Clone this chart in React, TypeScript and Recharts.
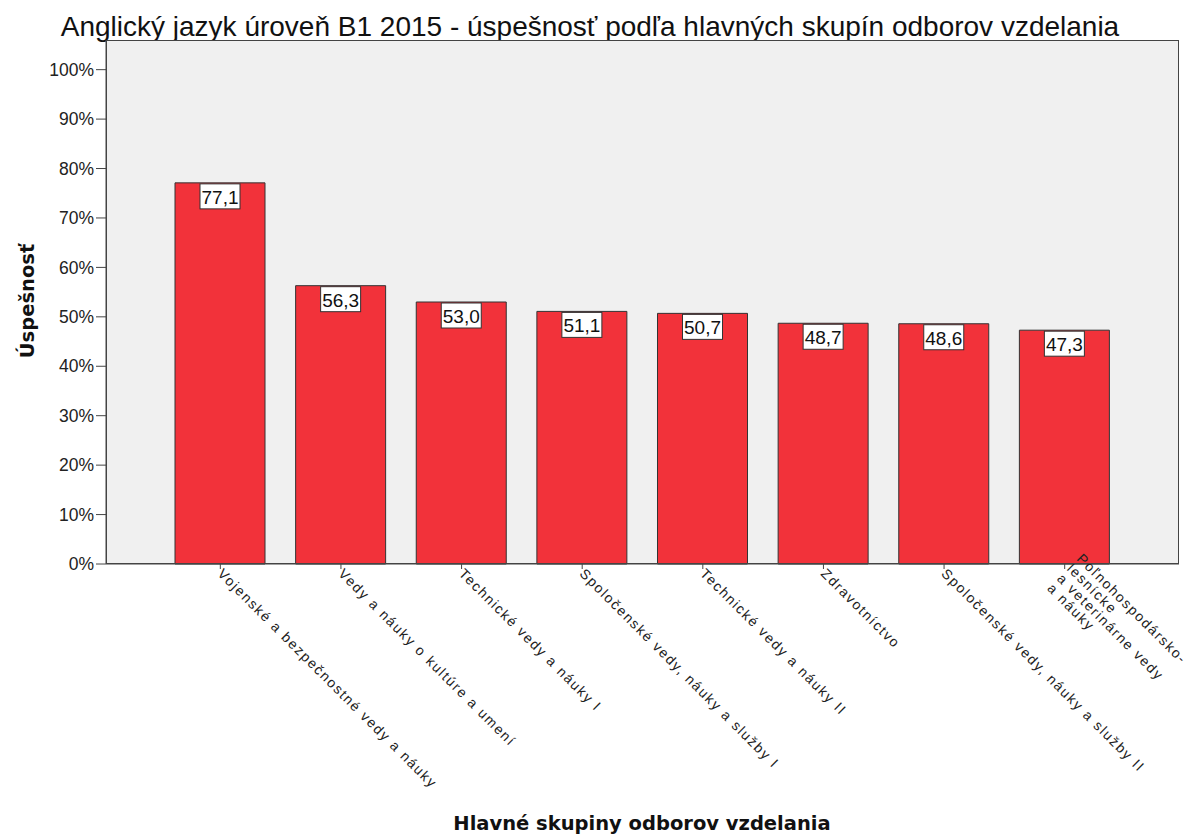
import React from 'react';
import { BarChart, Bar, XAxis, YAxis, CartesianGrid, LabelList } from 'recharts';

const categories = [
  'Vojenské a bezpečnostné vedy a náuky',
  'Vedy a náuky o kultúre a umení',
  'Technické vedy a náuky I',
  'Spoločenské vedy, náuky a služby I',
  'Technické vedy a náuky II',
  'Zdravotníctvo',
  'Spoločenské vedy, náuky a služby II',
  'Poľnohospodársko-\nlesnícke\na veterinárne vedy\na náuky',
];
const values = [77.1, 56.3, 53.0, 51.1, 50.7, 48.7, 48.6, 47.3];
const yTicks = [0, 10, 20, 30, 40, 50, 60, 70, 80, 90, 100];

const data = categories.map((name, i) => ({ name, value: values[i] }));

const FONT = '"Liberation Sans", Arial, sans-serif';
const BOLD_FONT = '"DejaVu Sans", Verdana, sans-serif';

const fmt = (v: number) => v.toFixed(1).replace('.', ',');

const ValueBox = (props: any) => {
  const { x, y, width, value } = props;
  const cx = x + width / 2;
  return (
    <g>
      <rect x={cx - 20} y={y + 1} width={40} height={25} fill="#fff" stroke="#333" />
      <text x={cx} y={y + 21} textAnchor="middle" fontSize={19} fontFamily={FONT} fill="#111">
        {fmt(value)}
      </text>
    </g>
  );
};

const SlantTick = (props: any) => {
  const { x, y, payload } = props;
  const lines = String(payload.value).split('\n');
  const lh = 14;
  const start = -((lines.length - 1) * lh) / 2;
  return (
    <g transform={`translate(${x},${y})`}>
      <text
        transform="rotate(45)"
        textAnchor="start"
        fontSize={14}
        letterSpacing={1.6}
        fontFamily={FONT}
        fill="#222"
      >
        {lines.map((l, i) => (
          <tspan key={i} x={0} y={start + i * lh} dy="0.35em">
            {l}
          </tspan>
        ))}
      </text>
    </g>
  );
};

export default function App() {
  return (
    <div style={{ position: 'absolute', left: 0, top: 0, width: 1189, height: 838, background: '#fff', fontFamily: FONT }}>
      <div style={{ position: 'absolute', top: 13, left: 0, width: 1180, textAlign: 'center', fontSize: 28, lineHeight: '28px', color: '#111' }}>
        Anglický jazyk úroveň B1 2015 - úspešnosť podľa hlavných skupín odborov vzdelania
      </div>
      <BarChart width={1189} height={838} data={data} margin={{ top: 40, right: 10, bottom: 0, left: 0 }}>
        <CartesianGrid fill="#f0f0f0" horizontal={false} vertical={false} />
        <XAxis
          dataKey="name"
          interval={0}
          height={274}
          padding={{ left: 54, right: 54 }}
          tickSize={5}
          tickMargin={2}
          tick={<SlantTick />}
          axisLine={{ stroke: '#444' }}
          tickLine={{ stroke: '#444' }}
        />
        <YAxis
          width={106}
          domain={[0, 106]}
          ticks={yTicks}
          tickFormatter={(v: number) => `${v}%`}
          tickSize={10}
          tickMargin={2}
          tick={{ fontSize: 17.5, fill: '#222', fontFamily: FONT }}
          axisLine={{ stroke: '#444' }}
          tickLine={{ stroke: '#444' }}
        />
        <Bar dataKey="value" barSize={90} fill="#f2323a" stroke="#333" isAnimationActive={false}>
          <LabelList dataKey="value" content={<ValueBox />} />
        </Bar>
      </BarChart>
      <div style={{ position: 'absolute', left: 106, top: 40, width: 1073, height: 524, border: '1px solid #444', boxSizing: 'border-box', pointerEvents: 'none' }} />
      <div style={{ position: 'absolute', left: 27, top: 301, transform: 'translate(-50%,-50%) rotate(-90deg)', fontFamily: BOLD_FONT, fontWeight: 'bold', fontSize: 19.5, color: '#111', whiteSpace: 'nowrap' }}>
        Úspešnosť
      </div>
      <div style={{ position: 'absolute', left: 0, top: 812, width: 1284, textAlign: 'center', fontFamily: BOLD_FONT, fontWeight: 'bold', fontSize: 19.5, lineHeight: '24px', color: '#111' }}>
        Hlavné skupiny odborov vzdelania
      </div>
    </div>
  );
}
